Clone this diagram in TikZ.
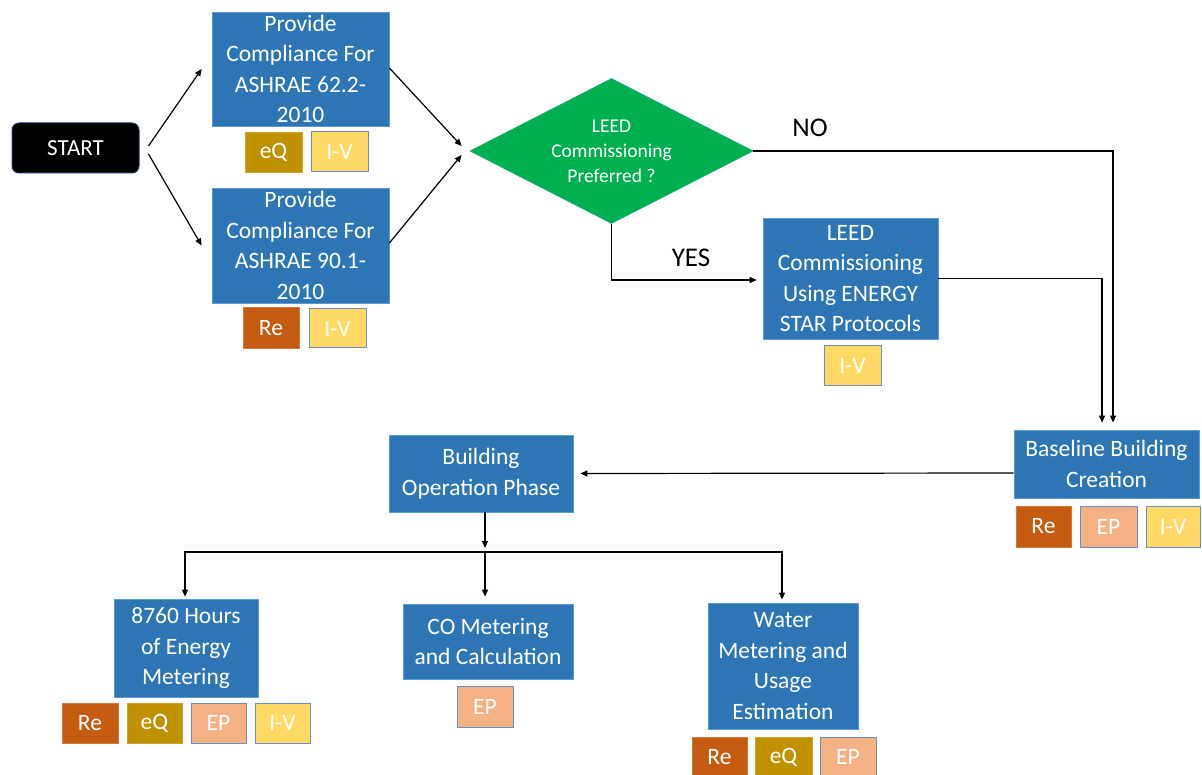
\documentclass[tikz,border=0pt]{standalone}
\usepackage{fontspec}
\setmainfont{Carlito}
\usetikzlibrary{arrows.meta,shapes.geometric}
\definecolor{boxblue}{HTML}{2E75B6}
\definecolor{boxedge}{HTML}{5B9BD5}
\definecolor{reCol}{HTML}{C55A11}
\definecolor{eqCol}{HTML}{BF9000}
\definecolor{epCol}{HTML}{F4B183}
\definecolor{ivCol}{HTML}{FFD966}
\definecolor{tagedge}{HTML}{6A8EC0}
\definecolor{diaGreen}{HTML}{00B050}
\definecolor{startEdge}{HTML}{1F3864}
\tikzset{
  box/.style={rectangle, fill=boxblue, draw=boxedge, line width=0.8pt, text=white, align=center, inner sep=0pt, font=\fontsize{23.5}{30.5}\selectfont},
  tag/.style={rectangle, text=white, inner sep=0pt, minimum width=56pt, minimum height=40pt, font=\fontsize{23.5}{28}\selectfont},
  retag/.style={tag, fill=reCol, draw=reCol!80!white, line width=0.6pt},
  eqtag/.style={tag, fill=eqCol, draw=eqCol!80!white, line width=0.6pt},
  eptag/.style={tag, fill=epCol, draw=tagedge, line width=1pt},
  ivtag/.style={tag, fill=ivCol, draw=tagedge, line width=1pt},
  arr/.style={draw=black, line width=1.2pt, -{Triangle[length=7pt,width=6pt]}},
  lbl/.style={text=black, inner sep=0pt, font=\fontsize{27}{30}\selectfont}
}
\begin{document}
\begin{tikzpicture}[x=1pt, y=-1pt]
\clip (0,0) rectangle (1202,775);
\fill[white] (0,0) rectangle (1202,775);

% start
\node[rectangle, rounded corners=7pt, fill=black, draw=startEdge, line width=1pt, text=white, inner sep=0pt,
  minimum width=127pt, minimum height=50pt, font=\fontsize{23}{26}\selectfont] (start) at (75.5,148) {START};

% ASHRAE boxes
\node[box, minimum width=177pt, minimum height=114pt] (b1) at (300.5,69) {Provide\\Compliance For\\ASHRAE 62.2-\\2010};
\node[eqtag, minimum width=57pt] (b1eq) at (273.5,152) {eQ};
\node[ivtag, minimum width=57pt] (b1iv) at (339.5,152) {I-V};

\node[box, minimum width=177pt, minimum height=115pt] (b2) at (300.5,245.5) {Provide\\Compliance For\\ASHRAE 90.1-\\2010};
\node[retag, minimum height=41pt] (b2re) at (271,328) {Re};
\node[ivtag, minimum width=57pt, minimum height=39pt] (b2iv) at (337.5,328.5) {I-V};

% decision
\node[diamond, aspect=2, fill=diaGreen, draw=diaGreen!70!boxedge, line width=0.8pt, text=white, inner sep=0pt,
  minimum width=283pt, minimum height=145pt, align=center, font=\fontsize{19.5}{25}\selectfont] (dia) at (611.5,151)
  {LEED\\Commissioning\\Preferred ?};
\node[lbl] (no) at (810,128) {NO};
\node[lbl] (yes) at (691,258) {YES};

% LEED commissioning
\node[box, minimum width=175pt, minimum height=121pt] (leed) at (850.5,278.5) {LEED\\Commissioning\\Using ENERGY\\STAR Protocols};
\node[ivtag, minimum width=57pt] (leediv) at (852.5,366) {I-V};

% baseline
\node[box, minimum width=185pt, minimum height=68pt] (base) at (1106.5,464) {Baseline Building\\Creation};
\node[retag, minimum width=55pt, minimum height=41pt] (basere) at (1043.5,526.5) {Re};
\node[eptag, minimum width=57pt, minimum height=41pt] (baseep) at (1108.5,526.5) {EP};
\node[ivtag, minimum width=54pt, minimum height=41pt] (baseiv) at (1173,526.5) {I-V};

% operation
\node[box, minimum width=184pt, minimum height=77pt] (op) at (481,473.5) {Building\\Operation Phase};

% 8760
\node[box, minimum width=144pt, minimum height=98pt] (e8760) at (186,648) {8760 Hours\\of Energy\\Metering};
\node[retag, minimum width=56pt] (ere) at (90,723) {Re};
\node[eqtag, minimum width=55pt] (eeq) at (154.5,723) {eQ};
\node[eptag, minimum width=55pt] (eep) at (218.5,723) {EP};
\node[ivtag, minimum width=55pt] (eiv) at (282.5,723) {I-V};

% CO
\node[box, minimum width=170pt, minimum height=75pt] (co) at (488,641.5) {CO Metering\\and Calculation};
\node[eptag, minimum width=56pt, minimum height=41pt] (coep) at (485,706.5) {EP};

% water
\node[box, minimum width=150pt, minimum height=126pt] (water) at (783,666) {Water\\Metering and\\Usage\\Estimation};
\node[retag, minimum width=55pt] (wre) at (719.5,757) {Re};
\node[eqtag, minimum width=57pt] (weq) at (783.5,757) {eQ};
\node[eptag, minimum width=56pt] (wep) at (848,757) {EP};

% connectors
\draw[arr] ([xshift=9pt,yshift=2pt]start.east) -- ([xshift=-10pt]b1.west);
\draw[arr] ([xshift=9pt,yshift=-6pt]start.east) -- ([xshift=-10pt]b2.west);
\draw[arr] ([yshift=1pt]b1.east) -- ([xshift=-8pt,yshift=5pt]dia.west);
\draw[arr] ([yshift=2.5pt]b2.east) -- ([xshift=-8pt,yshift=-4pt]dia.west);
\draw[arr] (dia.east) -| ([xshift=6.5pt,yshift=7pt]base.north);
\draw[arr] (dia.south) |- ([xshift=-6pt,yshift=-1.5pt]leed.west);
\draw[arr] (leed.east) -| ([xshift=-4.5pt,yshift=7pt]base.north);
\draw[arr] ([yshift=-9pt]base.west) -- ([xshift=7pt]op.east);

\coordinate (bus) at (485,552);
\draw[arr] ([xshift=4pt]op.south) -- ([yshift=4pt]bus);
\draw[arr, shorten >=7pt] (bus) -- (bus |- co.north);
\draw[arr, shorten >=2pt] (bus) -| ([xshift=-1pt]e8760.north);
\draw[arr, shorten >=3pt] (bus) -| ([xshift=-1pt]water.north);
\end{tikzpicture}
\end{document}
